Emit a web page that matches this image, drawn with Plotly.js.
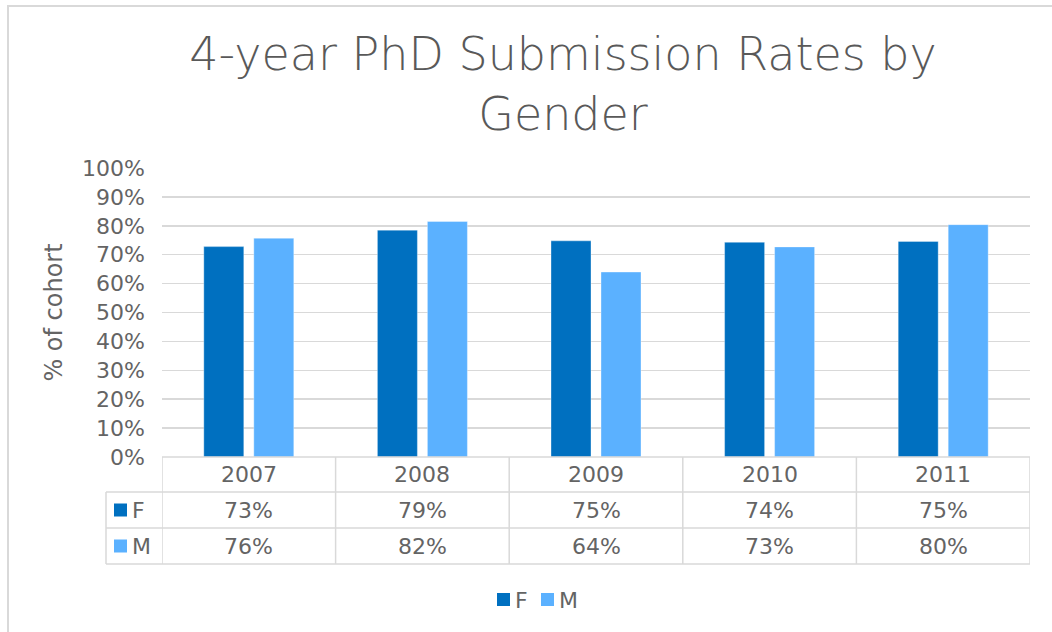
<!DOCTYPE html>
<html>
<head>
<meta charset="utf-8">
<script src="https://cdn.plot.ly/plotly-3.0.1.min.js"></script>
<style>html,body{margin:0;padding:0;background:#fff;}</style>
</head>
<body>
<div id="chart" style="width:1052px;height:632px;"></div>
<script>
const years = ["2007", "2008", "2009", "2010", "2011"];
const seriesNames = ["F", "M"];
const femaleRates = [0.728, 0.785, 0.748, 0.743, 0.746];
const maleRates = [0.757, 0.815, 0.640, 0.727, 0.804];
const yTickVals = [0, 0.1, 0.2, 0.3, 0.4, 0.5, 0.6, 0.7, 0.8, 0.9, 1.0];

const colF = "#0070C0";
const colM = "#5BB1FF";
const txt = "#595959";
const txtBody = "#646464";
const grid = "#D9D9D9";
const FONT = "'DejaVu Sans', sans-serif";

// pixel geometry of plot area
const W = 1052, H = 632;
const L = 162, R = 1030, T = 168, B = 457;
const px = x => (x - L) / (R - L);
const py = y => (B - y) / (B - T);

const traces = [
  {type: "bar", name: seriesNames[0], x: years, y: femaleRates,
   marker: {color: colF, line: {color: "rgba(255,255,255,0.35)", width: 1}}, hoverinfo: "skip"},
  {type: "bar", name: seriesNames[1], x: years, y: maleRates,
   marker: {color: colM, line: {color: "rgba(255,255,255,0.35)", width: 1}}, hoverinfo: "skip"}
];

const shapes = [];
const annotations = [];
const lineStyle = {color: grid, width: 1.5};
const cellFont = {family: FONT, size: 22, color: txtBody};

// outer chart border (cut at right and bottom)
shapes.push({type: "path", xref: "paper", yref: "paper",
  path: `M ${px(8)} ${py(H + 5)} L ${px(8)} ${py(6)} L ${px(W + 5)} ${py(6)}`,
  line: {color: grid, width: 2}});

// table horizontal lines
const rowLines = [457, 492, 528, 564];
rowLines.forEach((y, i) => {
  shapes.push({type: "line", xref: "paper", yref: "paper",
    x0: i === 0 ? px(L) : px(106), x1: px(R), y0: py(y), y1: py(y), line: lineStyle});
});
// table vertical lines at category boundaries
for (let k = 0; k <= years.length; k++) {
  shapes.push({type: "line", xref: "x", yref: "paper",
    x0: k - 0.5, x1: k - 0.5, y0: py(457), y1: py(564), line: lineStyle});
}
shapes.push({type: "line", xref: "paper", yref: "paper",
  x0: px(106), x1: px(106), y0: py(492), y1: py(564), line: lineStyle});

// row legend keys and values
const rows = [{name: seriesNames[0], vals: femaleRates, color: colF, y: 510},
              {name: seriesNames[1], vals: maleRates, color: colM, y: 546}];
rows.forEach(r => {
  shapes.push({type: "rect", xref: "paper", yref: "paper",
    x0: px(114), x1: px(127), y0: py(r.y - 6.5), y1: py(r.y + 6.5),
    fillcolor: r.color, line: {width: 0}});
  annotations.push({xref: "paper", yref: "paper", x: px(130), y: py(r.y),
    xanchor: "left", yanchor: "middle", text: r.name, showarrow: false,
    font: cellFont});
  r.vals.forEach((v, i) => {
    annotations.push({xref: "x", yref: "paper", x: i, y: py(r.y),
      xanchor: "center", yanchor: "middle", text: Math.round(v * 100) + "%",
      showarrow: false, font: cellFont});
  });
});
// header row (years)
years.forEach((yr, i) => {
  annotations.push({xref: "x", yref: "paper", x: i, y: py(474),
    xanchor: "center", yanchor: "middle", text: yr, showarrow: false,
    font: cellFont});
});

// bottom legend
const legendItems = [{name: seriesNames[0], color: colF, sx: 497, tx: 513},
                     {name: seriesNames[1], color: colM, sx: 541, tx: 557}];
legendItems.forEach(it => {
  shapes.push({type: "rect", xref: "paper", yref: "paper",
    x0: px(it.sx), x1: px(it.sx + 13), y0: py(606), y1: py(593),
    fillcolor: it.color, line: {width: 0}});
  annotations.push({xref: "paper", yref: "paper", x: px(it.tx), y: py(600),
    xanchor: "left", yanchor: "middle", text: it.name, showarrow: false,
    font: cellFont});
});

const layout = {
  width: W, height: H,
  margin: {l: L, r: W - R, t: T, b: H - B, pad: 0},
  paper_bgcolor: "#fff", plot_bgcolor: "#fff",
  font: {family: FONT, color: txt},
  showlegend: false,
  barmode: "group",
  bargap: 0.424,
  bargroupgap: 0.2,
  title: {
    text: "4-year PhD Submission Rates by<br>Gender",
    font: {family: FONT, size: 46, color: txt, weight: 200},
    x: 563 / W, xanchor: "center", xref: "container",
    y: 1 - 70 / H, yanchor: "middle", yref: "container"
  },
  xaxis: {
    type: "category", range: [-0.5, years.length - 0.5],
    showticklabels: false, showgrid: false, zeroline: false,
    showline: false, ticks: "", fixedrange: true
  },
  yaxis: {
    range: [0, 1], tickvals: yTickVals, tickformat: ".0%",
    showgrid: true, gridcolor: grid, gridwidth: 1.5,
    zeroline: false, showline: false, ticks: "",
    ticklabelstandoff: 16,
    tickfont: {family: FONT, size: 22, color: txtBody},
    title: {text: "% of cohort", standoff: 12,
            font: {family: FONT, size: 24, color: txtBody}},
    fixedrange: true
  },
  shapes: shapes,
  annotations: annotations
};

Plotly.newPlot("chart", traces, layout, {displayModeBar: false, staticPlot: true});
</script>
</body>
</html>
